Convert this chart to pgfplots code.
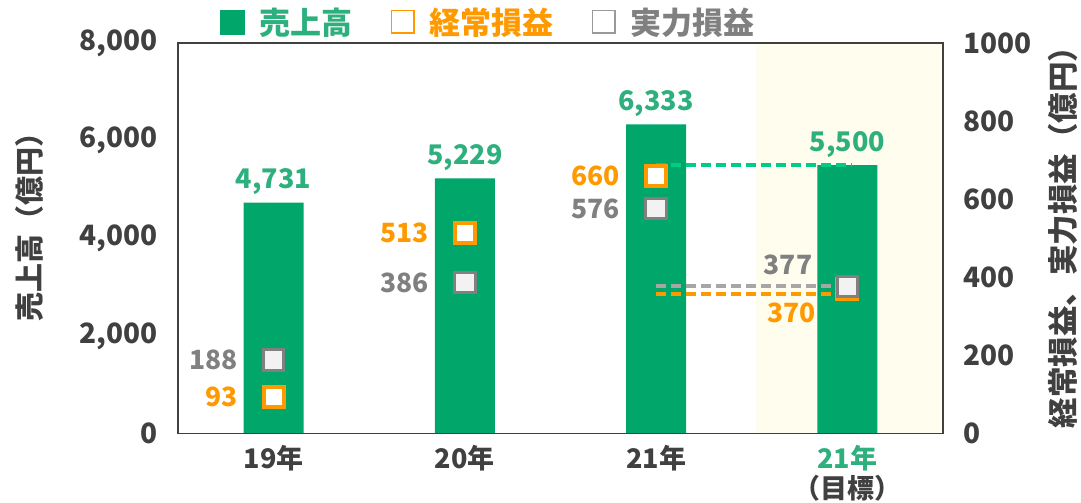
\documentclass[border=0pt]{standalone}
\usepackage{fontspec}
\setmainfont{Noto Sans CJK JP}
\usepackage{pgfplots}
\pgfplotsset{compat=1.18}
\pgfplotsset{/pgf/number format/assume math mode=true}
\definecolor{bargreen}{RGB}{0,166,106}
\definecolor{labgreen}{RGB}{46,176,126}
\definecolor{dashgreen}{RGB}{0,204,136}
\definecolor{orangec}{RGB}{255,153,0}
\definecolor{greyc}{RGB}{128,128,128}
\definecolor{greyfill}{RGB}{242,242,242}
\definecolor{greydash}{RGB}{166,166,166}
\definecolor{cream}{RGB}{255,253,238}
\definecolor{axiscol}{RGB}{64,64,64}
\begin{document}
\begin{tikzpicture}[x=1pt,y=1pt]
\useasboundingbox (-178,-69.5) rectangle (903,433.5);
\begin{axis}[
  at={(0,0)}, anchor=south west,
  scale only axis, width=765pt, height=390.5pt,
  xmin=-0.5, xmax=3.5, ymin=0, ymax=8000,
  axis on top,
  axis line style={draw=axiscol, line width=1.6pt},
  ytick={0,2000,4000,6000,8000}, ytick pos=left,
  xtick={0,1,2,3},
  xticklabels={19年,20年,21年,{\color{labgreen}21年\\（目標）}},
  xtick pos=bottom,
  major tick length=0pt,
  yticklabel style={font=\fontsize{28}{34}\selectfont\bfseries, text=axiscol, xshift=-17pt},
  xticklabel style={font=\fontsize{27}{30}\selectfont\bfseries, text=axiscol, align=center, yshift=-8pt},
  ylabel={売上高（億円）},
  ylabel style={font=\fontsize{29}{36}\selectfont\bfseries, text=axiscol, at={(axis description cs:-0.1935,0.548)}, anchor=center, rotate=0},
]
\addplot[draw=none, fill=cream] coordinates {(2.52,8000) (3.5,8000)} \closedcycle;
\addplot[ybar, bar width=60pt, fill=bargreen, draw=none,
  nodes near coords,
  nodes near coords style={font=\fontsize{27}{32}\selectfont\bfseries, text=labgreen, anchor=south, inner sep=0pt, yshift=7.5pt}]
  coordinates {(0,4731) (1,5229) (2,6333) (3,5500)};
\end{axis}
\begin{axis}[
  at={(0,0)}, anchor=south west,
  scale only axis, width=765pt, height=390.5pt,
  xmin=-0.5, xmax=3.5, ymin=0, ymax=1000,
  hide x axis,
  axis y line*=right,
  y axis line style={draw=none},
  ytick={0,200,400,600,800,1000},
  /pgf/number format/1000 sep={},
  major tick length=0pt,
  yticklabel style={font=\fontsize{28}{34}\selectfont\bfseries, text=axiscol, xshift=17pt},
  ylabel={経常損益、実力損益（億円）},
  ylabel style={font=\fontsize{30.5}{36}\selectfont\bfseries, text=axiscol, at={(axis description cs:1.157,0.521)}, anchor=center, rotate=0},
  legend style={at={(axis description cs:0.0549,1.0538)}, anchor=west, draw=none, fill=none,
    font=\fontsize{31}{36}\selectfont\bfseries, inner sep=0pt,
    nodes={inner sep=0pt},
    /tikz/every odd column/.append style={column sep=15pt},
    /tikz/every even column/.append style={column sep=38pt}},
  legend columns=3,
  clip=false,
]
\addplot[forget plot, orangec, line width=4pt, dash pattern=on 10pt off 5pt] coordinates {(2,357) (2.96,357)};
\addplot[forget plot, greydash, line width=4pt, dash pattern=on 10pt off 5pt] coordinates {(2,377) (2.935,377)};
\addplot[forget plot, only marks, mark=square*, mark size=10pt, mark options={draw=orangec, fill=white, line width=4pt}]
  coordinates {(0,93) (1,513) (2,660) (3,370)};
\addplot[forget plot, only marks, mark=square*, mark size=10.2pt, mark options={draw=greyc, fill=greyfill, line width=3pt}]
  coordinates {(0,188) (1,386) (2,576) (3,377)};
\addplot[forget plot, dashgreen, line width=4pt, dash pattern=on 10pt off 5pt] coordinates {(2,687.5) (3.02,687.5)};
% labels
\addplot[forget plot, draw=none, no markers, nodes near coords,
  nodes near coords style={font=\fontsize{26.5}{32}\selectfont\bfseries, text=orangec, anchor=east, inner sep=0pt, xshift=-36pt}]
  coordinates {(0,93) (1,513) (2,660)};
\addplot[forget plot, draw=none, no markers, nodes near coords,
  nodes near coords style={font=\fontsize{26.5}{32}\selectfont\bfseries, text=greyc, anchor=east, inner sep=0pt, xshift=-36pt}]
  coordinates {(0,188) (1,386) (2,576)};
\addplot[forget plot, draw=none, no markers, nodes near coords,
  nodes near coords style={font=\fontsize{26.5}{32}\selectfont\bfseries, text=greyc, anchor=east, inner sep=0pt, xshift=-35pt, yshift=21pt}]
  coordinates {(3,377)};
\addplot[forget plot, draw=none, no markers, nodes near coords,
  nodes near coords style={font=\fontsize{26.5}{32}\selectfont\bfseries, text=orangec, anchor=east, inner sep=0pt, xshift=-31.5pt, yshift=-24pt}]
  coordinates {(3,370)};
\addlegendimage{legend image code/.code={\fill[bargreen] (0pt,-12pt) rectangle (24pt,12pt);}}
\addlegendentry{\textcolor{labgreen}{売上高}}
\addlegendimage{legend image code/.code={\draw[orangec, line width=1.5pt, fill=white] (0.75pt,-11.25pt) rectangle (23.25pt,11.25pt);}}
\addlegendentry{\textcolor{orangec}{経常損益}}
\addlegendimage{legend image code/.code={\draw[greyc!80, line width=1.5pt, fill=white] (0.75pt,-11.25pt) rectangle (23.25pt,11.25pt);}}
\addlegendentry{\textcolor{greyc}{実力損益}}
\end{axis}
\end{tikzpicture}
\end{document}
